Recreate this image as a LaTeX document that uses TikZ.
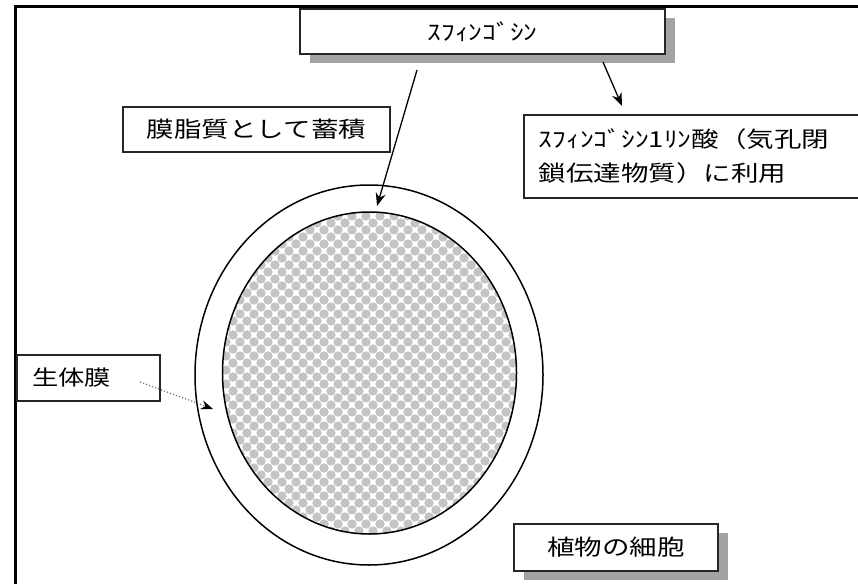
\documentclass[tikz,border=0pt]{standalone}
\usepackage{fontspec}
\newfontfamily\jp[FakeStretch=1.25]{Noto Sans CJK JP}
\usetikzlibrary{arrows.meta,shadows}
\definecolor{dotgray}{HTML}{C4C4C4}
\begin{document}
\begin{tikzpicture}[x=1pt,y=-1pt,
  labelbox/.style={draw=black!85, line width=1.6pt, fill=white, inner sep=0pt,
    font=\jp\fontsize{22}{34}\selectfont},
  shadowed/.style={drop shadow={shadow xshift=10pt, shadow yshift=-9pt,
    fill=black!36, opacity=1}},
  arr/.style={line width=1.3pt, -{Stealth[length=13pt,width=10pt]}},
  dotarr/.style={line width=1.2pt, draw=black!55, dotted,
    -{Stealth[length=12pt,width=9pt,color=black]}}]
\useasboundingbox (0,0) rectangle (858,583);

% outer frame (only the top and left sides fall on the page)
\draw[line width=3pt] (15,700) -- (15,7) -- (900,7);

% membrane (outer ring) and cell interior
\draw[line width=1.5pt, fill=white] (369,375) ellipse [x radius=174, y radius=190];
\begin{scope}
  \clip (369.5,373) ellipse [x radius=147, y radius=161];
  \fill[white] (200,190) rectangle (540,560);
  \foreach \i in {0,...,24}{
    \foreach \j in {0,...,26}{
      \fill[dotgray] (212+14*\i,202+14*\j) circle [radius=4.7];
      \fill[dotgray] (219+14*\i,209+14*\j) circle [radius=4.7];
    }
  }
\end{scope}
\draw[line width=1.5pt] (369.5,373) ellipse [x radius=147, y radius=161];

% labels
\node[labelbox, shadowed, minimum width=365pt, minimum height=45pt]
  (sph) at (482.5,31.5) {ｽﾌｨﾝｺﾞｼﾝ};
\node[labelbox, minimum width=267pt, minimum height=45pt]
  (store) at (256.5,129.5) {膜脂質として蓄積};
\node[labelbox, anchor=north west, minimum width=347pt, minimum height=83pt,
  text width=317pt, inner xsep=15pt, align=left]
  (s1p) at (523,114) {ｽﾌｨﾝｺﾞｼﾝ1ﾘﾝ酸（気孔閉\\鎖伝達物質）に利用};
\node[labelbox, minimum width=143pt, minimum height=46pt,
  text width=113pt, inner xsep=15pt, align=left, font=\jp\fontsize{21}{30}\selectfont]
  (mem) at (88.5,378) {生体膜};
\node[labelbox, shadowed, minimum width=204pt, minimum height=47pt]
  (cell) at (616,547.5) {植物の細胞};

% connectors
\coordinate (a1s) at (417,70);
\coordinate (a1e) at (377,206);
\coordinate (a2s) at (603,62);
\coordinate (a2e) at (622,106);
\coordinate (a3s) at (140,382);
\coordinate (a3e) at (213,409);
\draw[arr] (a1s) -- (a1e);
\draw[arr] (a2s) -- (a2e);
\draw[dotarr] (a3s) -- (a3e);
\end{tikzpicture}
\end{document}
